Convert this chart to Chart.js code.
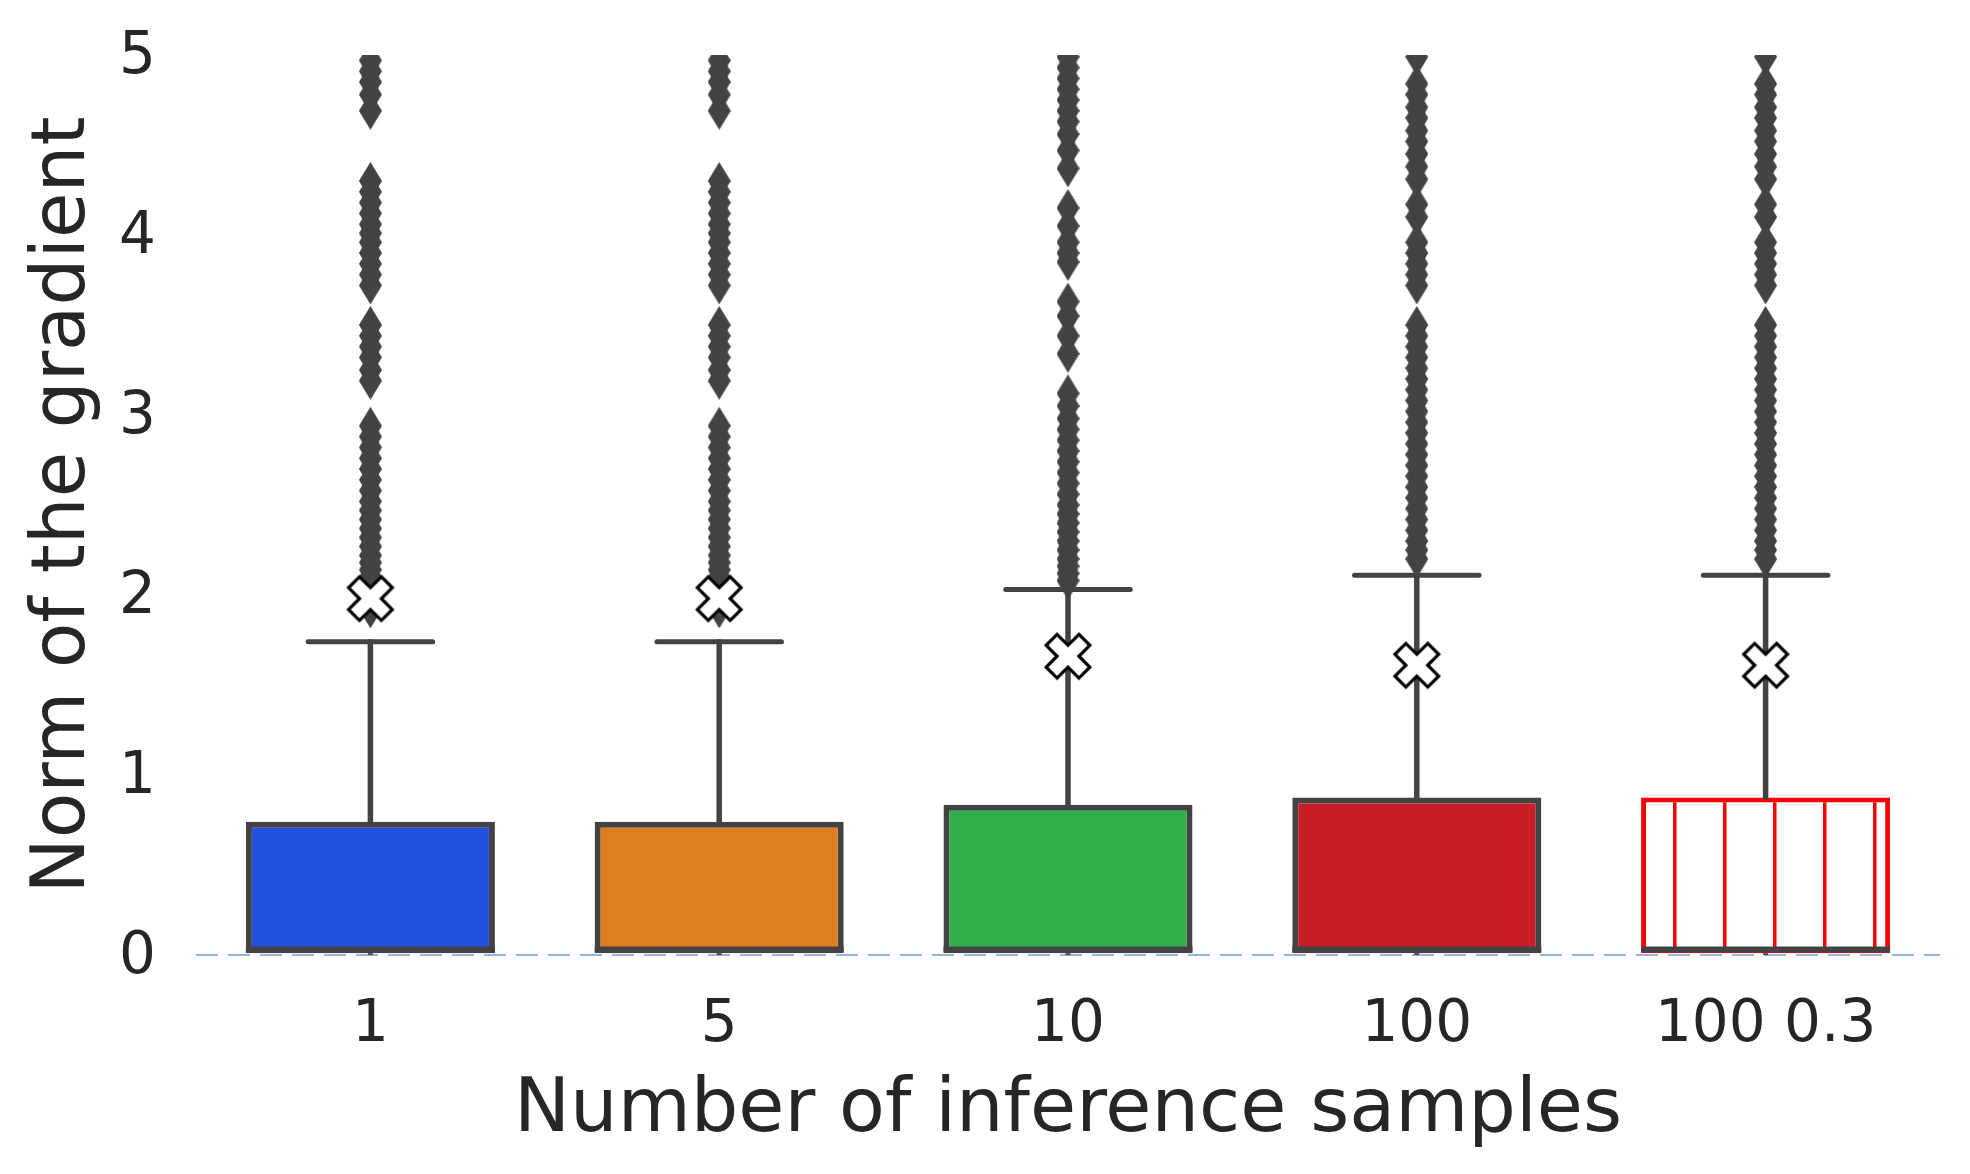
<!DOCTYPE html>
<html>
<head>
<meta charset="utf-8">
<script src="https://cdn.jsdelivr.net/npm/chart.js@4.4.1/dist/chart.umd.min.js"></script>
<style>
  html, body { margin: 0; padding: 0; background: #ffffff; }
  #wrap { width: 1970px; height: 1174px; position: relative; }
</style>
</head>
<body>
<div id="wrap"><canvas id="gradChart"></canvas></div>
<script>
// values
const categories = ["1", "5", "10", "100", "100 0.3"];
const lowerQuartile = [0.01, 0.01, 0.01, 0.01, 0.01];
const medians = [0.03, 0.03, 0.03, 0.03, 0.03];
const upperQuartile = [0.74, 0.74, 0.835, 0.875, 0.875];
const whiskerLow = [0, 0, 0, 0, 0];
const whiskerHigh = [1.74, 1.74, 2.03, 2.11, 2.11];
const means = [1.98, 1.98, 1.66, 1.61, 1.61];
const yTicks = [0, 1, 2, 3, 4, 5];

const fliers1 = [5.05, 4.97, 4.91, 4.85, 4.78, 4.69,
  4.3, 4.24, 4.18, 4.12, 4.06, 4.01, 3.96, 3.9, 3.84, 3.78, 3.72,
  3.5, 3.44, 3.38, 3.32, 3.25, 3.19,
  2.94, 2.88, 2.82, 2.76, 2.7, 2.64, 2.58, 2.52, 2.47, 2.42, 2.37, 2.32, 2.27, 2.22, 2.18, 2.14, 2.1, 2.06, 2.02, 1.98, 1.94, 1.92];
const fliers5 = [5.05, 4.97, 4.91, 4.85, 4.78, 4.69,
  4.3, 4.24, 4.18, 4.12, 4.06, 4.01, 3.96, 3.9, 3.84, 3.78, 3.72,
  3.5, 3.44, 3.38, 3.32, 3.25, 3.19,
  2.94, 2.88, 2.82, 2.76, 2.7, 2.64, 2.58, 2.52, 2.47, 2.42, 2.37, 2.32, 2.27, 2.22, 2.18, 2.14, 2.1, 2.06, 2.02, 1.98, 1.94, 1.92];
const fliers10 = [5.05, 4.99, 4.93, 4.87, 4.81, 4.75, 4.69, 4.63, 4.56, 4.47, 4.37,
  4.15, 4.05, 3.96, 3.9, 3.85,
  3.63, 3.55, 3.44, 3.34,
  3.12, 3.05, 2.98, 2.92, 2.86, 2.8, 2.74, 2.68, 2.62, 2.56, 2.5, 2.45, 2.4, 2.35, 2.3, 2.25, 2.2, 2.16, 2.12, 2.08];
const fliers100 = [5.1, 4.99, 4.84, 4.78, 4.71, 4.65, 4.58, 4.52, 4.45, 4.38, 4.31,
  4.17, 4.1, 3.96, 3.9, 3.84, 3.78, 3.72,
  3.5, 3.44, 3.38, 3.32, 3.26, 3.2, 3.14, 3.08, 3.02, 2.96, 2.9, 2.84, 2.78, 2.72, 2.66, 2.6, 2.54, 2.48, 2.42, 2.36, 2.3, 2.25, 2.2];
const fliers100b = [5.1, 4.99, 4.84, 4.78, 4.71, 4.65, 4.58, 4.52, 4.45, 4.38, 4.31,
  4.17, 4.1, 3.96, 3.9, 3.84, 3.78, 3.72,
  3.5, 3.44, 3.38, 3.32, 3.26, 3.2, 3.14, 3.08, 3.02, 2.96, 2.9, 2.84, 2.78, 2.72, 2.66, 2.6, 2.54, 2.48, 2.42, 2.36, 2.3, 2.25, 2.2];
const fliersByCategory = [fliers1, fliers5, fliers10, fliers100, fliers100b];

const boxColors = ["#2351e0", "#e07d20", "#2eb14a", "#c91d28"];
const lineGray = "#434343";
const textColor = "#262626";

function makeHatch() {
  const tile = document.createElement("canvas");
  tile.width = 50;
  tile.height = 10;
  const g = tile.getContext("2d");
  g.fillStyle = "#ffffff";
  g.fillRect(0, 0, 50, 10);
  g.fillStyle = "#ff0000";
  g.fillRect(23, 0, 3.5, 10);
  return g.createPattern(tile, "repeat");
}

function makeDiamond() {
  const c = document.createElement("canvas");
  c.width = 23;
  c.height = 38;
  const g = c.getContext("2d");
  g.fillStyle = lineGray;
  g.beginPath();
  g.moveTo(11.5, 0);
  g.lineTo(23, 19);
  g.lineTo(11.5, 38);
  g.lineTo(0, 19);
  g.closePath();
  g.fill();
  return c;
}

function makeMeanMarker() {
  const c = document.createElement("canvas");
  c.width = 54;
  c.height = 54;
  const g = c.getContext("2d");
  const a = 23.2;
  const b = 7.7;
  g.translate(27, 27);
  g.rotate(Math.PI / 4);
  g.beginPath();
  g.moveTo(-b, -a);
  g.lineTo(b, -a);
  g.lineTo(b, -b);
  g.lineTo(a, -b);
  g.lineTo(a, b);
  g.lineTo(b, b);
  g.lineTo(b, a);
  g.lineTo(-b, a);
  g.lineTo(-b, b);
  g.lineTo(-a, b);
  g.lineTo(-a, -b);
  g.lineTo(-b, -b);
  g.closePath();
  g.fillStyle = "#ffffff";
  g.fill();
  g.lineWidth = 3.2;
  g.lineJoin = "miter";
  g.strokeStyle = "#000000";
  g.stroke();
  return c;
}

function strokeLine(ctx, x1, y1, x2, y2) {
  ctx.beginPath();
  ctx.moveTo(x1, y1);
  ctx.lineTo(x2, y2);
  ctx.stroke();
}

// whiskers, caps, medians and the dashed zero line, placed through the chart scales
const boxParts = {
  id: "boxParts",
  beforeDatasetsDraw(chart) {
    const { ctx, chartArea, scales } = chart;
    const y0 = scales.y.getPixelForValue(0);
    ctx.save();
    ctx.strokeStyle = "#7a9ad4";
    ctx.lineWidth = 1.6;
    ctx.setLineDash([22, 10]);
    strokeLine(ctx, chartArea.left, y0, chartArea.right, y0);
    ctx.restore();
  },
  afterDatasetDraw(chart, args) {
    if (args.index !== 0) return;
    const ctx = chart.ctx;
    const y = chart.scales.y;
    ctx.save();
    ctx.strokeStyle = lineGray;
    args.meta.data.forEach((bar, i) => {
      const cx = bar.x;
      const w = bar.width;
      ctx.lineCap = "round";
      ctx.lineWidth = 5.5;
      strokeLine(ctx, cx, y.getPixelForValue(upperQuartile[i]), cx, y.getPixelForValue(whiskerHigh[i]));
      ctx.lineWidth = 5;
      strokeLine(ctx, cx - w / 4, y.getPixelForValue(whiskerHigh[i]), cx + w / 4, y.getPixelForValue(whiskerHigh[i]));
      ctx.lineCap = "butt";
      strokeLine(ctx, cx, y.getPixelForValue(lowerQuartile[i]), cx, y.getPixelForValue(whiskerLow[i]));
      ctx.lineWidth = 6;
      strokeLine(ctx, cx - w / 2, y.getPixelForValue(medians[i]), cx + w / 2, y.getPixelForValue(medians[i]));
    });
    ctx.restore();
  },
};

function buildChart() {
  const hatch = makeHatch();
  const diamond = makeDiamond();
  const meanMarker = makeMeanMarker();

  const flierPoints = [];
  fliersByCategory.forEach((list, i) => {
    list.forEach((v) => flierPoints.push({ x: categories[i], y: v }));
  });
  const meanPoints = means.map((v, i) => ({ x: categories[i], y: v }));

  const context = document.getElementById("gradChart");
  return new Chart(context, {
    type: "bar",
    data: {
      labels: categories,
      datasets: [
        {
          type: "bar",
          label: "boxes",
          data: categories.map((c, i) => [lowerQuartile[i], upperQuartile[i]]),
          backgroundColor: [...boxColors, hatch],
          borderColor: [lineGray, lineGray, lineGray, lineGray, "#ff0000"],
          borderWidth: [6, 6, 6, 6, 5],
          borderSkipped: false,
          barPercentage: 0.714,
          categoryPercentage: 1,
          order: 3,
        },
        {
          type: "line",
          label: "fliers",
          data: flierPoints,
          showLine: false,
          pointStyle: diamond,
          pointRadius: 12,
          clip: 0,
          order: 2,
        },
        {
          type: "line",
          label: "means",
          data: meanPoints,
          showLine: false,
          pointStyle: meanMarker,
          pointRadius: 12,
          clip: false,
          order: 1,
        },
      ],
    },
    options: {
      responsive: true,
      maintainAspectRatio: false,
      animation: false,
      events: [],
      layout: { padding: { top: 55, right: 30, left: 0, bottom: 0 } },
      plugins: {
        legend: { display: false },
        tooltip: { enabled: false },
      },
      scales: {
        x: {
          grid: { display: false, drawTicks: false },
          border: { display: false },
          ticks: { color: textColor, font: { size: 58 }, padding: 36 },
          title: {
            display: true,
            text: "Number of inference samples",
            color: textColor,
            font: { size: 75 },
            padding: { top: 0, bottom: 17 },
          },
          afterFit(scale) {
            scale.height = 219;
            scale.paddingLeft = 0;
            scale.paddingRight = 0;
          },
        },
        y: {
          min: 0,
          max: 5,
          grid: { display: false, drawTicks: false },
          border: { display: false },
          afterBuildTicks(scale) { scale.ticks = yTicks.map((v) => ({ value: v })); },
          ticks: { color: textColor, font: { size: 58 }, padding: 40, labelOffset: 3 },
          title: {
            display: true,
            text: "Norm of the gradient",
            color: textColor,
            font: { size: 74 },
            padding: { top: 20, bottom: 0 },
          },
          afterFit(scale) {
            scale.width = 196;
            scale.paddingTop = 0;
            scale.paddingBottom = 0;
          },
        },
      },
    },
    plugins: [boxParts],
  });
}

Chart.defaults.font.family = "'DejaVu Sans', sans-serif";

document.addEventListener("DOMContentLoaded", () => {
  buildChart();
});
</script>
</body>
</html>
